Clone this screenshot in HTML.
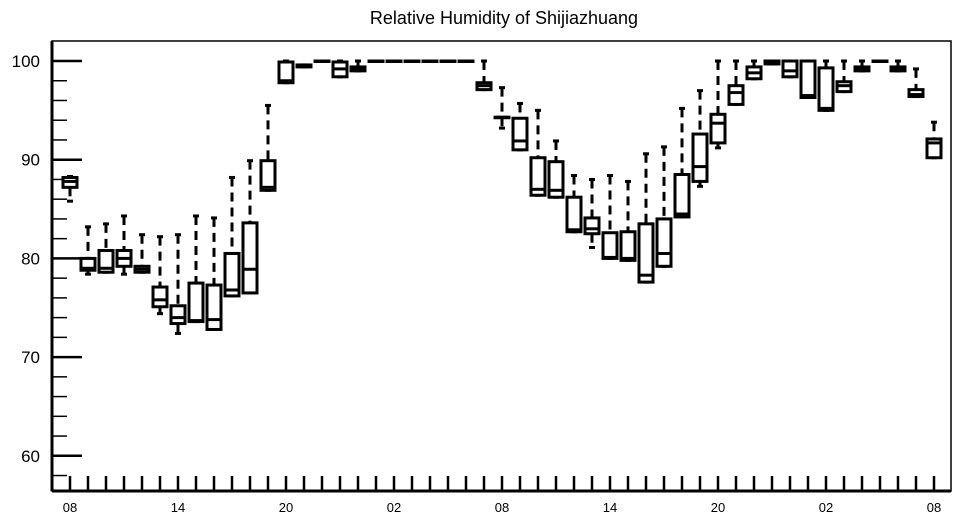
<!DOCTYPE html>
<html><head><meta charset="utf-8"><style>
html,body{margin:0;padding:0;background:#fff;}
svg{display:block;font-family:"Liberation Sans",Arial,sans-serif;}
</style></head><body>
<svg id="chart" width="957" height="520" viewBox="0 0 957 520">
<text x="504" y="24" text-anchor="middle" font-size="18">Relative Humidity of Shijiazhuang</text>
<rect x="52" y="41" width="899" height="450" fill="none" stroke="#000" stroke-width="1.5"/>
<g id="axes"></g>
<g id="marks"></g>
</svg>
<script>
const hours = [8,9,10,11,12,13,14,15,16,17,18,19,20,21,22,23,0,1,2,3,4,5,6,7,8,9,10,11,12,13,14,15,16,17,18,19,20,21,22,23,0,1,2,3,4,5,6,7,8];
const mins = [85.8,78.4,78.6,78.4,78.6,74.4,72.4,73.6,72.8,76.2,76.5,86.9,97.8,99.4,100,98.4,99.0,100,100,100,100,100,100,97.1,93.2,91.0,86.4,86.2,82.7,81.1,80.0,79.8,77.6,79.2,84.2,87.3,91.2,95.6,98.2,99.7,98.4,96.3,95.0,96.9,99.0,100,99.0,96.4,90.2];
const q1s = [87.2,78.8,78.6,79.2,78.6,75.1,73.4,73.6,72.8,76.2,76.5,86.9,97.8,99.4,100,98.4,99.0,100,100,100,100,100,100,97.1,94.3,91.0,86.4,86.2,82.7,82.5,80.0,79.8,77.6,79.2,84.2,87.8,91.7,95.6,98.2,99.7,98.4,96.3,95.0,96.9,99.0,100,99.0,96.4,90.2];
const medians = [87.8,79.0,79.0,80.0,78.9,75.8,74.0,73.7,73.8,76.8,78.9,87.2,98.0,99.5,100,99.2,99.2,100,100,100,100,100,100,97.5,94.3,91.9,87.0,86.9,82.9,83.0,80.1,80.0,78.3,80.5,84.5,89.3,93.7,96.8,98.8,99.8,99.0,96.5,95.2,97.5,99.2,100,99.2,96.6,91.7];
const q3s = [88.2,80.0,80.8,80.8,79.2,77.1,75.2,77.5,77.3,80.5,83.6,89.9,99.9,99.6,100,99.9,99.4,100,100,100,100,100,100,97.8,94.3,94.2,90.2,89.8,86.2,84.1,82.6,82.7,83.5,84.0,88.5,92.6,94.6,97.5,99.4,100,100,100,99.3,97.9,99.4,100,99.4,97.1,92.1];
const maxs = [88.3,83.2,83.5,84.3,82.4,82.2,82.4,84.3,84.1,88.2,89.9,95.5,100,99.6,100,100,100,100,100,100,100,100,100,100,97.3,95.7,95.0,91.9,88.4,88.0,88.4,87.8,90.6,91.3,95.2,97.0,100,100,100,100,100,100,100,100,100,100,100,99.2,93.8];
const yTicks = [58,60,62,64,66,68,70,72,74,76,78,80,82,84,86,88,90,92,94,96,98,100];
const yLabels = [60,70,80,90,100];
const xLabels = ["08","14","20","02","08","14","20","02","08"];

const NS="http://www.w3.org/2000/svg";
const yS = v => 61 + (100 - v) * 9.87;
const xS = i => 70 + i * 18;
const axes = document.getElementById('axes');
const marks = document.getElementById('marks');
function mk(tag, attrs, parent){const e=document.createElementNS(NS,tag);for(const k in attrs)e.setAttribute(k,attrs[k]);parent.appendChild(e);return e;}

// axis lines
let ax = mk('line',{x1:52,y1:41,x2:52,y2:491,stroke:'#000','stroke-width':3},axes);


ax = mk('line',{x1:52,y1:491,x2:951,y2:491,stroke:'#000','stroke-width':3},axes);



yTicks.forEach(v=>{
  const major = yLabels.includes(v);
  const t = mk('line',{x1:52,y1:yS(v),x2:major?82:67,y2:yS(v),stroke:'#000','stroke-width':major?2.5:1.5},axes);
  
  
});
yLabels.forEach(v=>{
  const t = mk('text',{x:40,y:yS(v)+6,'text-anchor':'end','font-size':17},axes);
  t.textContent = v;
  
  
});
hours.forEach((h,i)=>{
  const t = mk('line',{x1:xS(i),y1:476,x2:xS(i),y2:491,stroke:'#000','stroke-width':2.5},axes);
  
  
});
xLabels.forEach((lab,j)=>{
  const t = mk('text',{x:xS(j*6),y:512,'text-anchor':'middle','font-size':13},axes);
  t.textContent = lab;
  
  
});

hours.forEach((h,i)=>{
  const g = mk('g',{},marks);
  
  
  const x = xS(i), w = 14;
  const yq1 = yS(q1s[i]), yq3 = yS(q3s[i]);
  if (maxs[i] > q3s[i]) mk('line',{x1:x,y1:yS(maxs[i]),x2:x,y2:yq3,stroke:'#000','stroke-width':3,'stroke-dasharray':'9,6'},g);
  if (mins[i] < q1s[i]) mk('line',{x1:x,y1:yq1,x2:x,y2:yS(mins[i]),stroke:'#000','stroke-width':3,'stroke-dasharray':'9,6'},g);
  mk('line',{x1:x-3,y1:yS(maxs[i]),x2:x+3,y2:yS(maxs[i]),stroke:'#000','stroke-width':3},g);
  mk('line',{x1:x-3,y1:yS(mins[i]),x2:x+3,y2:yS(mins[i]),stroke:'#000','stroke-width':3},g);
  mk('rect',{x:x-w/2,y:yq3,width:w,height:Math.max(yq1-yq3,0.5),fill:'#fff',stroke:'#000','stroke-width':3},g);
  mk('line',{x1:x-w/2,y1:yS(medians[i]),x2:x+w/2,y2:yS(medians[i]),stroke:'#000','stroke-width':3},g);
});
</script>
</body></html>
